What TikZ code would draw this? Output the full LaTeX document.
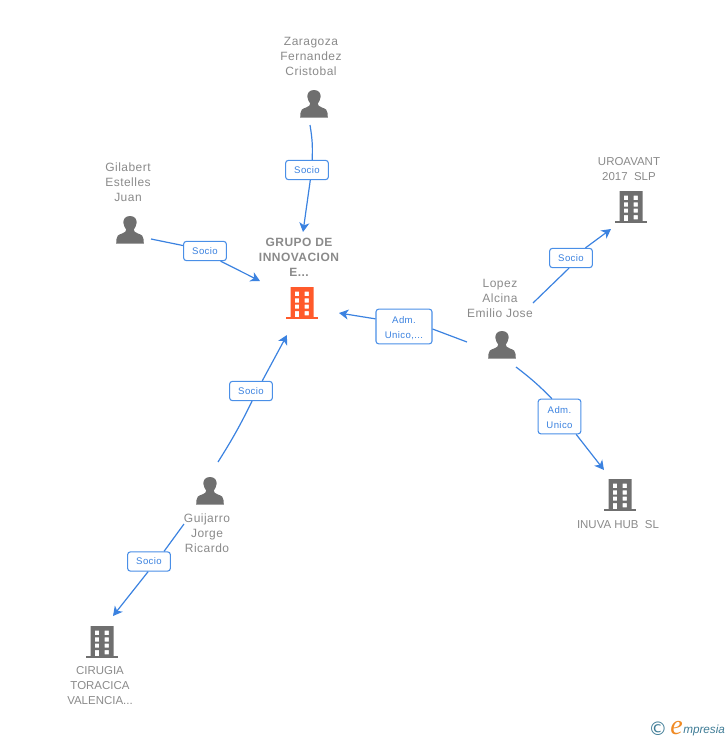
\documentclass[tikz,border=0pt]{standalone}
\usepackage{fontspec}
\setmainfont{Liberation Sans}
\newfontfamily\spacedfont[LetterSpace=4]{Liberation Sans}
\newfontfamily\logofont{Liberation Serif}
\newfontfamily\symfont{DejaVu Sans}
\usetikzlibrary{arrows.meta}
\definecolor{linkblue}{HTML}{3B82E0}
\definecolor{boxblue}{HTML}{4A8FE7}
\definecolor{icongray}{HTML}{6F6F6F}
\definecolor{textgray}{HTML}{8A8A8A}
\definecolor{iconorange}{HTML}{FF5A2B}
\definecolor{logoteal}{HTML}{3F7C96}
\definecolor{logoorange}{HTML}{F08A24}
\tikzset{
  x=0.75pt,y=-0.75pt,
  link/.style={draw=linkblue,line width=0.9pt},
  arrowlink/.style={link,-{Stealth[length=7pt,width=7.5pt,inset=2pt]}},
  tagbox/.style={draw=boxblue,line width=0.8pt,rounded corners=2pt,fill=white,text=linkblue,
    inner sep=0pt,align=center,font=\spacedfont\fontsize{7.2}{11.25}\selectfont},
  smalltag/.style={tagbox,minimum width=32pt,minimum height=14.4pt},
  tallertag/.style={tagbox,minimum height=26pt},
  nametext/.style={text=textgray,inner sep=0pt,align=center,font=\spacedfont\fontsize{9}{11.25}\selectfont},
  capstext/.style={nametext,font=\fontsize{8.6}{11.25}\selectfont},
  hubtext/.style={nametext,font=\spacedfont\bfseries\fontsize{9}{11.25}\selectfont},
  anchorpt/.style={inner sep=0pt,minimum size=0pt},
  personicon/.pic={
    \fill[icongray] (0,-14) .. controls (-5,-14) and (-7,-10.5) .. (-6.6,-7)
      .. controls (-6.2,-4) and (-5,-2) .. (-3.8,-0.5)
      .. controls (-3.8,1.5) and (-5,2.5) .. (-8,3.5)
      .. controls (-12,5) and (-13.5,6) .. (-13.5,9)
      -- (-13.8,13.5) -- (13.8,13.5) -- (13.5,9)
      .. controls (13.5,6) and (12,5) .. (8,3.5)
      .. controls (5,2.5) and (3.8,1.5) .. (3.8,-0.5)
      .. controls (5,-2) and (6.2,-4) .. (6.6,-7)
      .. controls (7,-10.5) and (5,-14) .. (0,-14) -- cycle;
  },
  buildingicon/.pic={
    \fill[pic actions,even odd rule]
      (-11.5,-16) rectangle (11.5,14)
      (-7.2,-11.3) rectangle (-2.8,-7)
      (2.5,-11.3) rectangle (6.8,-7)
      (-7.2,-4.7) rectangle (-2.8,-0.3)
      (2.5,-4.7) rectangle (6.8,-0.3)
      (-7.2,1.7) rectangle (-2.8,5.7)
      (2.5,1.7) rectangle (6.8,5.7)
      (-7.2,8) rectangle (-2.8,14)
      (2.5,8) rectangle (6.8,12.3);
    \fill[pic actions] (-16,14) rectangle (16,16);
  },
}
\begin{document}
\begin{tikzpicture}
\useasboundingbox (0,0) rectangle (728,740);

% icons
\pic[icongray] at (314,104) {personicon};
\pic[icongray] at (130,230) {personicon};
\pic[icongray] at (502,345) {personicon};
\pic[icongray] at (210,491) {personicon};
\pic[fill=iconorange] at (302,303) {buildingicon};
\pic[fill=icongray] at (631,207) {buildingicon};
\pic[fill=icongray] at (620,495) {buildingicon};
\pic[fill=icongray] at (102,642) {buildingicon};

% names
\node[nametext] (zaragoza) at (311,56) {Zaragoza\\Fernandez\\Cristobal};
\node[nametext] (gilbert) at (128,182) {Gilabert\\Estelles\\Juan};
\node[hubtext] (grupo) at (299,257) {GRUPO DE\\INNOVACION\\E...};
\node[nametext] (lopez) at (500,298) {Lopez\\Alcina\\Emilio Jose};
\node[nametext] (guijarro) at (207,533) {Guijarro\\Jorge\\Ricardo};
\node[capstext] (uroavant) at (629,169) {UROAVANT\\2017\ \ SLP};
\node[capstext] (inuva) at (618,525) {INUVA HUB\ \ SL};
\node[capstext] (cirugia) at (100,686) {CIRUGIA\\TORACICA\\VALENCIA...};

% tags
\node[smalltag] (tagz) at (307,170) {Socio};
\node[smalltag] (tagg) at (205,251) {Socio};
\node[smalltag] (tagj) at (251,391) {Socio};
\node[smalltag] (tagc) at (149,561.5) {Socio};
\node[smalltag] (tagu) at (571,258) {Socio};
\node[tallertag,minimum width=42pt] (tagl) at (404,326.5) {\rule{0pt}{7.4pt}Adm.\\Unico,...};
\node[tallertag,minimum width=32pt] (tagi) at (559.5,416.5) {\rule{0pt}{7.4pt}Adm.\\Unico};

% connector ends
\coordinate (zs) at (310,125);
\coordinate (ze) at (303,232);
\coordinate (gs) at (151,239);
\coordinate (ge) at (260,281);
\coordinate (js) at (218,462);
\coordinate (je) at (287,335);
\coordinate (cs) at (184,524);
\coordinate (ce) at (113,616);
\coordinate (us) at (533,303);
\coordinate (ue) at (611,229);
\coordinate (ls) at (467,342);
\coordinate (le) at (339,313);
\coordinate (is) at (516,367);
\coordinate (ie) at (604,470);

% connectors
\draw[link] (zs) to[bend left=6] (tagz.63);
\draw[arrowlink] (tagz.-72) -- (ze);
\draw[link] (gs) -- (tagg.166);
\draw[arrowlink] (tagg.-33) -- (ge);
\draw[link] (js) to[bend right=3] (tagj.-84);
\draw[arrowlink] (tagj.42) -- (je);
\draw[link] (cs) -- (tagc.34);
\draw[arrowlink] (tagc.-95) -- (ce);
\draw[link] (us) -- (tagu.-101);
\draw[arrowlink] (tagu.35) -- (ue);
\draw[link] (ls) -- (tagl.-5);
\draw[arrowlink] (tagl.165) -- (le);
\draw[link] (is) to[bend left=4] (tagi.113);
\draw[arrowlink] (tagi.-47) -- (ie);

% logo
\node[anchorpt,text=logoteal,font=\symfont\fontsize{14}{14}\selectfont] (copy) at (658,729) {©};
\node[anchorpt,anchor=base west,text=logoorange,font=\logofont\itshape\fontsize{21}{21}\selectfont] (logoe) at (670,734) {e};
\node[anchorpt,anchor=base west,text=logoteal,font=\itshape\fontsize{8.8}{10}\selectfont] (logorest) at (683,733) {mpresia};
\end{tikzpicture}
\end{document}
